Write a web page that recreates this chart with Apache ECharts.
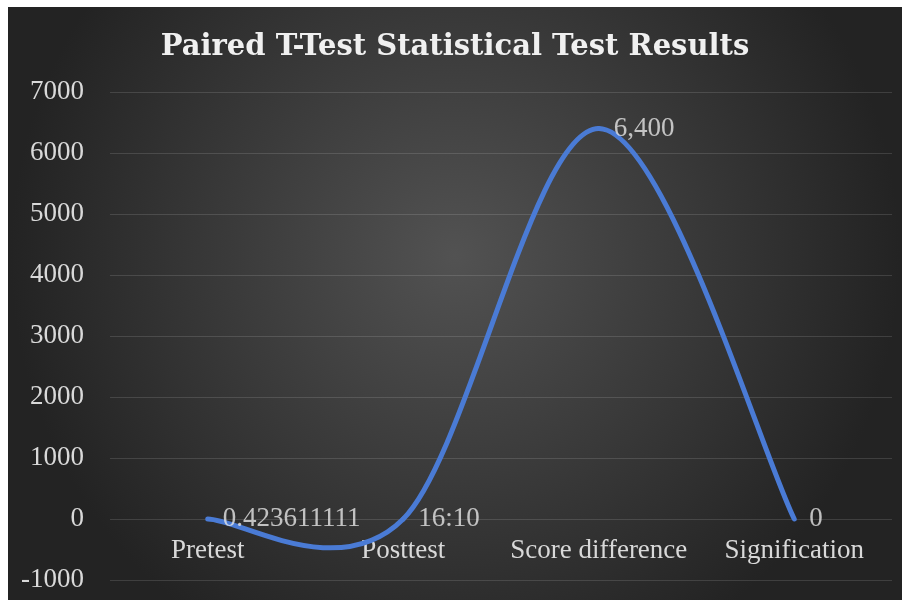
<!DOCTYPE html>
<html><head><meta charset="utf-8">
<script src="https://cdn.jsdelivr.net/npm/echarts@6/dist/echarts.min.js"></script>
<style>
html,body{margin:0;padding:0;background:#fff;width:902px;height:600px;overflow:hidden;}
#c{position:absolute;left:8px;top:7px;width:894px;height:593px;}
</style></head>
<body><div id="c"></div>
<script>
const categories = ["Pretest", "Posttest", "Score difference", "Signification"];
const values = [0.423611111, 0.673611111, 6400, 0];
const dataLabels = ["0.423611111", "16:10", "6,400", "0"];
const yMin = -1000, yMax = 7000, yStep = 1000;

const chart = echarts.init(document.getElementById('c'), null, {renderer:'canvas'});
const serif = '"Liberation Serif", "DejaVu Serif", serif';
const lineColor = '#4a7bd5';
const gridColor = 'rgba(255,255,255,0.13)';

// Excel-style smoothed line: cubic Bezier segments through the data points,
// control points from neighbouring points (Catmull-Rom, 1/6), in pixel space.
function renderSegment(params, api) {
  const i = params.dataIndex;
  if (i >= values.length - 1) return null;
  const P = values.map((v, k) => api.coord([k, v]));
  const prev = P[Math.max(i - 1, 0)], a = P[i], b = P[i + 1], next = P[Math.min(i + 2, P.length - 1)];
  const c1 = [a[0] + (b[0] - prev[0]) / 6, a[1] + (b[1] - prev[1]) / 6];
  const c2 = [b[0] - (next[0] - a[0]) / 6, b[1] - (next[1] - a[1]) / 6];
  return {
    type: 'bezierCurve',
    shape: {x1: a[0], y1: a[1], x2: b[0], y2: b[1], cpx1: c1[0], cpy1: c1[1], cpx2: c2[0], cpy2: c2[1]},
    style: {stroke: lineColor, lineWidth: 5, fill: null, lineCap: 'round'},
    silent: true
  };
}

chart.setOption({
  animation: false,
  backgroundColor: {
    type: 'radial', x: 0.5, y: 0.42, r: 0.75,
    colorStops: [{offset: 0, color: '#525252'}, {offset: 1, color: '#232323'}]
  },
  title: {
    text: 'Paired T-Test Statistical Test Results',
    left: 'center', top: 21,
    textStyle: {color: '#f0f0f0', fontFamily: '"DejaVu Serif", serif', fontWeight: 'bold', fontSize: 29}
  },
  grid: {left: 102, right: 10, top: 85, bottom: 20, outerBoundsMode: 'none', containLabel: false},
  xAxis: {
    type: 'category', data: categories, boundaryGap: true,
    position: 'bottom', offset: -61,
    axisLine: {show: false, onZero: false},
    axisTick: {show: false},
    axisLabel: {color: '#d9d9d9', fontFamily: serif, fontSize: 27, margin: 18, interval: 0, hideOverlap: false},
    splitLine: {show: false}
  },
  yAxis: {
    type: 'value', min: yMin, max: yMax, interval: yStep,
    axisLine: {show: false}, axisTick: {show: false},
    axisLabel: {color: '#d9d9d9', fontFamily: serif, fontSize: 27, margin: 26, formatter: v => String(v)},
    splitLine: {lineStyle: {color: gridColor, width: 1}}
  },
  series: [{
    type: 'custom',
    data: values.map((v, i) => [i, v]),
    encode: {x: 0, y: 1},
    renderItem: renderSegment,
    z: 3
  }, {
    type: 'scatter',
    data: values,
    symbolSize: 0,
    itemStyle: {color: lineColor},
    label: {
      show: true, position: 'right', distance: 15,
      color: '#e6e6e6', fontFamily: serif, fontSize: 27,
      formatter: p => dataLabels[p.dataIndex]
    },
    z: 4
  }]
});
</script></body></html>
